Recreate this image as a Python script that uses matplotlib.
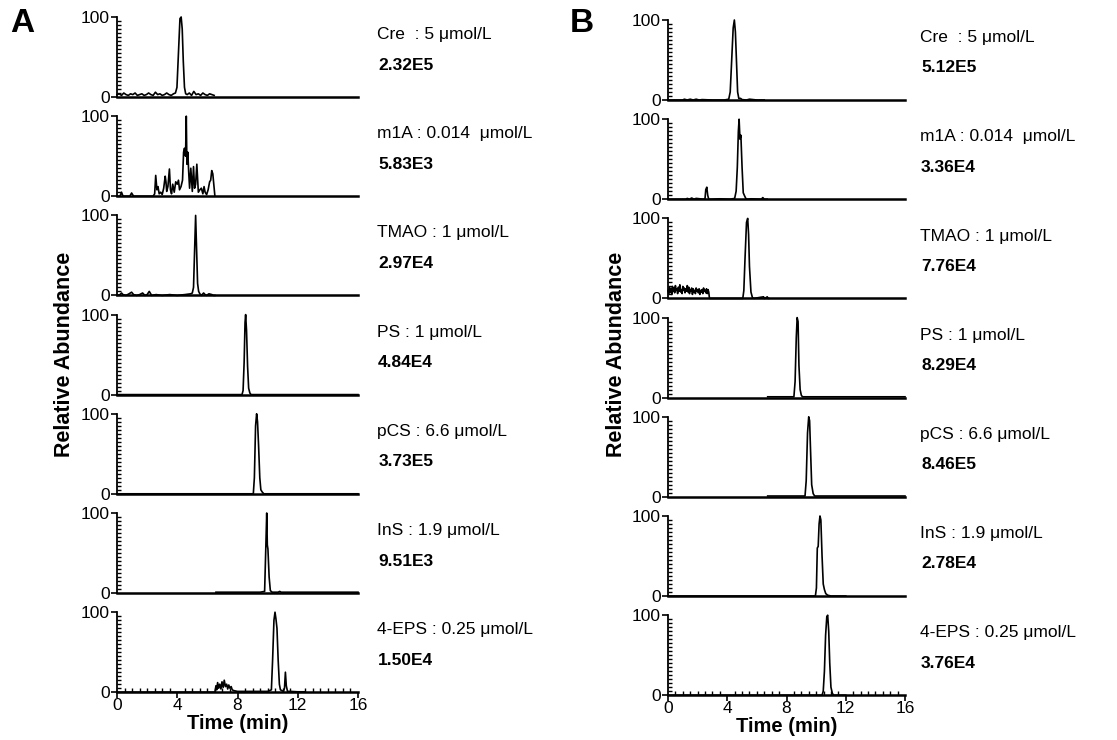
import matplotlib
matplotlib.use("Agg")
import matplotlib.pyplot as plt
from matplotlib.ticker import MultipleLocator, FixedLocator

plt.rcParams['font.family'] = ['Liberation Sans', 'DejaVu Sans']

# compound labels and peak areas
names = ["Cre  : 5 μmol/L", "m1A : 0.014  μmol/L", "TMAO : 1 μmol/L", "PS : 1 μmol/L",
         "pCS : 6.6 μmol/L", "InS : 1.9 μmol/L", "4-EPS : 0.25 μmol/L"]
areas_a = ["2.32E5", "5.83E3", "2.97E4", "4.84E4", "3.73E5", "9.51E3", "1.50E4"]
areas_b = ["5.12E5", "3.36E4", "7.76E4", "8.29E4", "8.46E5", "2.78E4", "3.76E4"]

# ---- panel A traces (time in min, relative abundance in %) ----
cre_a_t = [0, 0.15, 0.3, 0.45, 0.6, 0.75, 0.9, 1.05, 1.2, 1.35, 1.5, 1.65, 1.8, 1.95, 2.1,
           2.25, 2.4, 2.55, 2.7, 2.85, 3.0, 3.15, 3.3, 3.45, 3.6, 3.75, 3.88, 3.98, 4.08,
           4.18, 4.26, 4.33, 4.4, 4.48, 4.56, 4.66, 4.8, 4.95, 5.1, 5.25, 5.4, 5.55, 5.7,
           5.85, 6.0, 6.15, 6.3, 6.45]
cre_a_y = [3, 4, 2, 5, 3, 2, 4, 3, 5, 2, 3, 4, 2, 3, 5,
           3, 2, 6, 3, 4, 2, 3, 5, 3, 2, 4, 5, 12, 55,
           98, 100, 85, 45, 12, 4, 3, 5, 2, 7, 3, 4, 2, 5,
           3, 2, 4, 3, 2]

m1a_a_t = [0, 0.2, 0.3, 0.4, 0.6, 0.85, 0.97, 1.1, 1.3, 2.4, 2.5, 2.57, 2.65, 2.72, 2.8,
           2.9, 3.0, 3.1, 3.2, 3.25, 3.3, 3.38, 3.48, 3.55, 3.62, 3.7, 3.8, 3.9, 4.0,
           4.08, 4.15, 4.25, 4.35, 4.42, 4.48, 4.55, 4.6, 4.64, 4.7, 4.76, 4.82, 4.9,
           5.0, 5.08, 5.15, 5.22, 5.3, 5.4, 5.5, 5.6, 5.7, 5.78, 5.85, 5.95, 6.05, 6.15,
           6.22, 6.29, 6.36, 6.45, 6.5]
m1a_a_y = [0, 0, 5, 0, 0, 0, 4, 0, 0, 0, 3, 26, 8, 12, 3,
           5, 2, 10, 25, 18, 6, 12, 34, 8, 3, 15, 5, 18, 15,
           20, 8, 12, 20, 55, 60, 50, 100, 40, 55, 30, 10, 35,
           6, 37, 10, 15, 40, 5, 8, 10, 3, 12, 5, 2, 8, 18,
           20, 32, 28, 10, 0]

tmao_a_t = [0, 0.2, 0.3, 0.4, 0.6, 0.8, 0.97, 1.1, 1.3, 1.5, 1.7, 1.85, 2.0, 2.14, 2.3,
            2.6, 3.0, 3.5, 4.0, 4.5, 4.9, 5.0, 5.08, 5.15, 5.22, 5.28, 5.35, 5.42, 5.5,
            5.6, 5.75, 5.85, 5.95, 6.1, 6.3, 6.4, 6.5]
tmao_a_y = [0, 1, 3, 1, 0, 2, 4, 1, 0, 1, 3, 0, 1, 5, 0,
            1, 0, 1, 0, 1, 2, 3, 10, 55, 100, 60, 15, 5, 2,
            0, 3, 1, 0, 2, 1, 0, 0]

ps_a_t = [0, 8.3, 8.37, 8.44, 8.5, 8.54, 8.6, 8.67, 8.74, 8.82, 8.9, 16]
ps_a_y = [0, 0, 5, 40, 90, 100, 80, 35, 8, 2, 0, 0]

pcs_a_t = [0, 9.05, 9.12, 9.2, 9.27, 9.33, 9.4, 9.48, 9.55, 9.65, 9.75, 16]
pcs_a_y = [0, 0, 20, 85, 100, 90, 60, 20, 5, 2, 0, 0]

ins_a_t = [6.57, 7.5, 8.5, 9.5, 9.8, 9.87, 9.94, 9.98, 10.02, 10.1, 10.18, 10.3, 10.7,
           10.8, 10.9, 12.0, 14.0, 16.0]
ins_a_y = [1, 1, 1, 1, 2, 50, 100, 60, 55, 20, 3, 1, 1,
           2, 1, 1, 1, 1]

eps_a_t = [0, 6.5, 6.57, 6.62, 6.68, 6.75, 6.82, 6.9, 6.97, 7.05, 7.12, 7.2, 7.28, 7.35,
           7.42, 7.5, 7.58, 7.65, 7.75, 8.0, 9.0, 10.0, 10.25, 10.33, 10.42, 10.49, 10.55,
           10.62, 10.7, 10.78, 10.85, 10.95, 11.05, 11.12, 11.18, 11.24, 11.32, 11.5, 12.0,
           12.5]
eps_a_y = [0, 0, 8, 3, 12, 5, 10, 4, 13, 6, 15, 7, 10, 4,
           9, 5, 7, 3, 2, 1, 1, 1, 3, 40, 90, 100, 92,
           80, 40, 10, 3, 2, 1, 5, 25, 8, 1, 1, 0.5,
           0.5]

# ---- panel B traces ----
cre_b_t = [0, 1.0, 1.1, 1.3, 1.5, 1.7, 1.9, 2.1, 2.3, 3.0, 3.8, 4.1, 4.2, 4.3, 4.4,
           4.48, 4.55, 4.62, 4.7, 4.78, 4.9, 5.0, 5.3, 5.5, 6.0, 6.5]
cre_b_y = [0, 0, 1, 0, 1, 0, 1, 0, 0.5, 0, 0, 1, 10, 50, 90,
           100, 85, 50, 10, 2, 2, 0.5, 0, 1, 0, 0]

m1a_b_t = [0, 1.2, 1.3, 1.45, 1.6, 1.75, 1.9, 2.4, 2.5, 2.55, 2.62, 2.68, 2.75, 2.9,
           3.5, 4.2, 4.5, 4.6, 4.68, 4.75, 4.8, 4.86, 4.92, 5.0, 5.08, 5.15, 5.25, 5.35,
           5.6, 6.3, 6.4, 6.5, 6.7]
m1a_b_y = [0, 0, 1, 0, 1.5, 0, 1, 0, 1, 12, 15, 5, 0, 0,
           0.5, 0, 1, 10, 40, 85, 100, 75, 80, 40, 8, 5, 1, 0,
           0.5, 0, 2, 0, 0]

tmao_b_t = [0, 0.05, 0.1, 0.15, 0.2, 0.25, 0.3, 0.35, 0.4, 0.45, 0.5, 0.55, 0.6, 0.65,
            0.7, 0.75, 0.8, 0.85, 0.9, 0.95, 1.0, 1.05, 1.1, 1.15, 1.2, 1.25, 1.3, 1.35,
            1.4, 1.45, 1.5, 1.55, 1.6, 1.65, 1.7, 1.75, 1.8, 1.85, 1.9, 1.95, 2.0, 2.05,
            2.1, 2.15, 2.2, 2.25, 2.3, 2.35, 2.4, 2.45, 2.5, 2.55, 2.6, 2.65, 2.7, 2.75,
            2.8, 3.5, 5.05, 5.12, 5.2, 5.3, 5.38, 5.44, 5.5, 5.6, 5.7, 5.8, 6.45, 6.5,
            6.55, 6.7, 6.75, 6.8]
tmao_b_y = [10, 6, 14, 8, 12, 5, 15, 9, 13, 7, 16, 10, 12, 6,
            14, 9, 17, 8, 11, 6, 15, 10, 13, 7, 12, 9, 16, 8,
            14, 6, 11, 9, 13, 5, 12, 8, 10, 6, 13, 9, 11, 7,
            12, 5, 10, 8, 11, 6, 13, 9, 10, 7, 12, 6, 11, 8,
            0, 0, 0, 10, 50, 95, 100, 80, 40, 8, 1, 0, 2, 0,
            0, 2, 0, 0]

ps_b_t = [6.73, 7.5, 8.5, 8.58, 8.66, 8.72, 8.78, 8.84, 8.92, 9.0, 9.08, 10.0, 12.0, 16.0]
ps_b_y = [1, 1, 1, 20, 75, 100, 95, 40, 10, 3, 1, 1, 1, 1]

pcs_b_t = [6.73, 7.5, 8.5, 9.25, 9.33, 9.42, 9.5, 9.56, 9.62, 9.7, 9.8, 9.9, 12.0, 16.0]
pcs_b_y = [1, 1, 1, 1, 20, 80, 100, 95, 60, 15, 4, 1, 1, 1]

ins_b_t = [0, 9.95, 10.02, 10.08, 10.14, 10.2, 10.26, 10.32, 10.4, 10.48, 10.56, 10.65,
           10.78, 11.0, 12.0]
ins_b_y = [0, 0, 10, 60, 62, 90, 100, 95, 50, 15, 8, 3, 1, 0, 0]

eps_b_t = [0, 10.4, 10.48, 10.56, 10.64, 10.72, 10.78, 10.85, 10.92, 11.0, 11.1, 11.2, 12.0]
eps_b_y = [0, 0, 5, 30, 75, 98, 100, 80, 40, 10, 2, 0, 0]

traces_a = [(cre_a_t, cre_a_y), (m1a_a_t, m1a_a_y), (tmao_a_t, tmao_a_y), (ps_a_t, ps_a_y),
            (pcs_a_t, pcs_a_y), (ins_a_t, ins_a_y), (eps_a_t, eps_a_y)]
traces_b = [(cre_b_t, cre_b_y), (m1a_b_t, m1a_b_y), (tmao_b_t, tmao_b_y), (ps_b_t, ps_b_y),
            (pcs_b_t, pcs_b_y), (ins_b_t, ins_b_y), (eps_b_t, eps_b_y)]

W, H = 1117, 740
fig = plt.figure(figsize=(W / 100, H / 100), dpi=100)


def draw_panel(left_px, width_px, top_px, traces, areas, label_x, letter, letter_x):
    n = len(traces)
    step = 99.2
    for i, (t, y) in enumerate(traces):
        top = top_px + i * step
        ax = fig.add_axes([left_px / W, 1 - (top + 80) / H, width_px / W, 80 / H])
        ax.plot(t, y, color='black', lw=1.2, clip_on=False)
        ax.set_xlim(0, 16)
        ax.set_ylim(0, 100)
        for s in ['top', 'right']:
            ax.spines[s].set_visible(False)
        ax.spines['left'].set_linewidth(1.3)
        ax.spines['bottom'].set_linewidth(1.8)
        ax.yaxis.set_major_locator(FixedLocator([0, 100]))
        ax.yaxis.set_minor_locator(MultipleLocator(5))
        ax.tick_params(axis='y', which='major', direction='out', length=4, width=1.2,
                       labelsize=12.5, pad=1)
        ax.tick_params(axis='y', which='minor', direction='in', length=3, width=1.0)
        if i == n - 1:
            ax.xaxis.set_major_locator(MultipleLocator(4))
            ax.xaxis.set_minor_locator(MultipleLocator(0.5))
            ax.tick_params(axis='x', which='major', direction='out', length=4, width=1.2,
                           labelsize=12.5, pad=0)
            ax.tick_params(axis='x', which='minor', direction='in', length=3, width=1.0)
            ax.set_xlabel("Time (min)", fontsize=14.5, fontweight='bold', labelpad=1)
        else:
            ax.set_xticks([])
            ax.xaxis.set_minor_locator(FixedLocator([]))
        ax.text(label_x, 0.78, names[i], transform=ax.transAxes, fontsize=12.5,
                ha='left', va='center')
        ax.text(label_x + 0.005, 0.40, areas[i], transform=ax.transAxes, fontsize=12.5,
                fontweight='bold', ha='left', va='center')
    fig.text(letter_x / W, 1 - 24 / H, letter, fontsize=24, fontweight='bold',
             ha='center', va='center')


draw_panel(117, 241, 17, traces_a, areas_a, 1.079, "A", 22)
draw_panel(668, 237, 20, traces_b, areas_b, 1.063, "B", 582)

fig.text(64 / W, 1 - 354 / H, "Relative Abundance", rotation=90, fontsize=15.5,
         fontweight='bold', ha='center', va='center')
fig.text(616 / W, 1 - 354 / H, "Relative Abundance", rotation=90, fontsize=15.5,
         fontweight='bold', ha='center', va='center')

fig.savefig("out.png", dpi=100)
